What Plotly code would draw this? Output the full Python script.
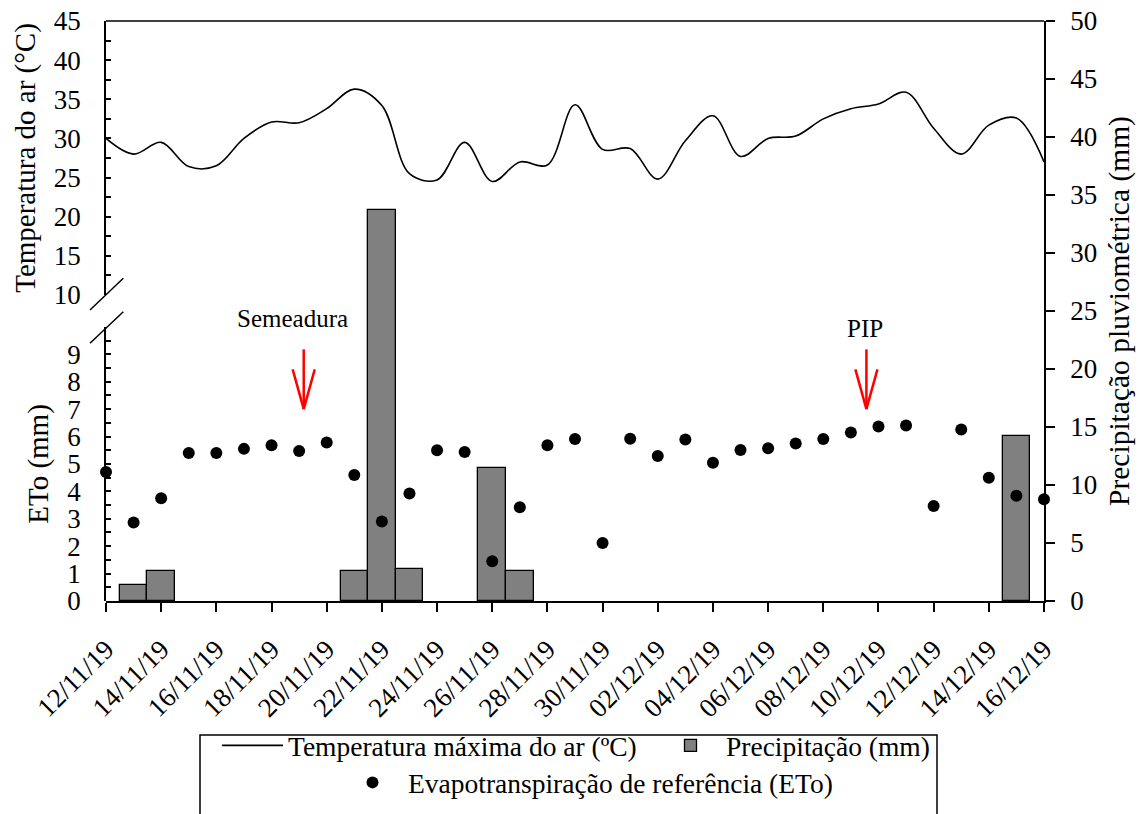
import plotly.graph_objects as go
import pandas as pd

# ---------------- data ----------------
dates = [
    "2019-11-12", "2019-11-13", "2019-11-14", "2019-11-15", "2019-11-16",
    "2019-11-17", "2019-11-18", "2019-11-19", "2019-11-20", "2019-11-21",
    "2019-11-22", "2019-11-23", "2019-11-24", "2019-11-25", "2019-11-26",
    "2019-11-27", "2019-11-28", "2019-11-29", "2019-11-30", "2019-12-01",
    "2019-12-02", "2019-12-03", "2019-12-04", "2019-12-05", "2019-12-06",
    "2019-12-07", "2019-12-08", "2019-12-09", "2019-12-10", "2019-12-11",
    "2019-12-12", "2019-12-13", "2019-12-14", "2019-12-15", "2019-12-16",
]

temp_max = [
    30.0, 28.0, 29.5, 26.4, 26.5, 30.0, 32.1, 32.0, 33.8, 36.3,
    34.2, 25.5, 24.7, 29.5, 24.5, 27.0, 26.6, 34.3, 28.6, 28.7,
    24.8, 29.7, 32.9, 27.7, 30.0, 30.3, 32.5, 33.8, 34.4, 35.9,
    31.3, 28.0, 31.7, 32.6, 27.0,
]

eto = [
    4.71, 2.86, 3.75, 5.40, 5.40, 5.55, 5.68, 5.47, 5.78, 4.60,
    2.90, 3.92, 5.50, 5.44, 1.45, 3.42, 5.68, 5.91, 2.12, 5.92,
    5.29, 5.89, 5.04, 5.51, 5.57, 5.75, 5.91, 6.15, 6.37, 6.40,
    3.47, 6.26, 4.50, 3.84, 3.71,
]

# days without rain are left empty (None)
precip = [
    None, 1.4, 2.6, None, None, None, None, None, None, 2.6,
    33.7, 2.8, None, None, 11.5, 2.6, None, None, None, None,
    None, None, None, None, None, None, None, None, None, None,
    None, None, None, 14.2, None,
]

tick_dates = dates[::2]
tick_labels = [
    "12/11/19", "14/11/19", "16/11/19", "18/11/19", "20/11/19", "22/11/19",
    "24/11/19", "26/11/19", "28/11/19", "30/11/19", "02/12/19", "04/12/19",
    "06/12/19", "08/12/19", "10/12/19", "12/12/19", "14/12/19", "16/12/19",
]

event_labels = ["Semeadura", "PIP"]
event_dates = ["2019-11-19 04:00", "2019-12-09 13:30"]

# ---------------- style ----------------
FONT = "Liberation Serif, Times New Roman, serif"
W, H = 1148, 814
ML, MR, MT, MB = 106, 104, 21, 213
PW, PH = W - ML - MR, H - MT - MB


def px_x(p):
    return (p - ML) / PW


def px_y(p):
    return (H - MB - p) / PH


fig = go.Figure()

fig.add_trace(go.Scatter(
    x=dates, y=temp_max, mode="lines",
    line=dict(color="black", width=1.6, shape="spline", smoothing=1.0),
    name="Temperatura máxima do ar (ºC)", xaxis="x", yaxis="y3",
    legend="legend", cliponaxis=False,
))

fig.add_trace(go.Bar(
    x=dates, y=precip, width=86400000,
    marker=dict(color="#808080", line=dict(color="black", width=1.3)),
    name="Precipitação (mm)", xaxis="x", yaxis="y",
    legend="legend",
))

fig.add_trace(go.Scatter(
    x=dates, y=eto, mode="markers",
    marker=dict(color="black", size=12),
    name="Evapotranspiração de referência (ETo)", xaxis="x", yaxis="y2",
    legend="legend2", cliponaxis=False,
))

eto_top = 10.0
temp_dom = [px_y(295), 1.0]
eto_dom = [0.0, px_y(601 - eto_top * 27.41)]

TICKSIZE = 27
axis_common = dict(showline=True, linecolor="black", linewidth=1.5,
                   showgrid=False, zeroline=False,
                   tickfont=dict(family=FONT, size=TICKSIZE, color="black"))

shapes = []
# top frame line
shapes.append(dict(type="line", xref="paper", yref="paper", x0=0, x1=1, y0=1, y1=1,
                   line=dict(color="black", width=1.5)))
# axis break marks
for (a, b) in [((90, 310), (123.3, 278.3)), ((90, 343.3), (123.3, 311.7))]:
    shapes.append(dict(type="line", xref="paper", yref="paper",
                       x0=px_x(a[0]), y0=px_y(a[1]), x1=px_x(b[0]), y1=px_y(b[1]),
                       line=dict(color="black", width=1.5)))
# red arrows
half = pd.Timedelta(hours=9.6)
for d in event_dates:
    t = pd.Timestamp(d)
    shapes.append(dict(type="line", xref="x", yref="y2", x0=t, x1=t, y0=9.18, y1=7.0,
                       line=dict(color="red", width=2.5)))
    shapes.append(dict(type="line", xref="x", yref="y2", x0=t - half, x1=t, y0=8.45, y1=7.0,
                       line=dict(color="red", width=2.5)))
    shapes.append(dict(type="line", xref="x", yref="y2", x0=t + half, x1=t, y0=8.45, y1=7.0,
                       line=dict(color="red", width=2.5)))
# legend frame
shapes.append(dict(type="rect", xref="paper", yref="paper",
                   x0=px_x(200), x1=px_x(937), y0=px_y(830), y1=px_y(735),
                   line=dict(color="black", width=1.5)))

annotations = []
label_pos = [(-0.4, 318), (-0.05, 328)]
for lab, d, (dx, py) in zip(event_labels, event_dates, label_pos):
    annotations.append(dict(
        x=pd.Timestamp(d) + pd.Timedelta(days=dx), xref="x", y=px_y(py), yref="paper",
        text=lab, showarrow=False, font=dict(family=FONT, size=25, color="black"),
        xanchor="center", yanchor="middle"))

fig.update_layout(
    width=W, height=H,
    margin=dict(l=ML, r=MR, t=MT, b=MB, autoexpand=False),
    paper_bgcolor="white", plot_bgcolor="rgba(0,0,0,0)",
    font=dict(family=FONT, color="black"),
    bargap=0,
    xaxis=dict(
        **axis_common, anchor="y", domain=[0, 1],
        range=[dates[0], dates[-1]], type="date",
        tickmode="array", tickvals=tick_dates, ticktext=tick_labels,
        tickangle=-45, ticks="outside", ticklen=9, tickwidth=1.5, tickcolor="black",
        ticklabelstandoff=11,
    ),
    yaxis=dict(
        **axis_common, anchor="x", side="right", domain=[0, 1], range=[0, 50],
        dtick=5, tick0=0, ticks="outside", ticklen=9, tickwidth=1.5, tickcolor="black",
        ticklabelstandoff=10,
        title=dict(text="Precipitação pluviométrica (mm)", standoff=12,
                   font=dict(family=FONT, size=29.5, color="black")),
    ),
    yaxis2=dict(
        **axis_common, anchor="x", side="left", domain=eto_dom, range=[0, eto_top],
        tickmode="array", tickvals=list(range(10)),
        ticks="inside", ticklen=5, tickwidth=1.5, tickcolor="black",
        minor=dict(dtick=0.5, tick0=0, ticks="inside", ticklen=5, tickwidth=1.5, tickcolor="black"),
        ticklabelstandoff=18,
        title=dict(text="ETo (mm)", standoff=10, font=dict(family=FONT, size=29, color="black")),
    ),
    yaxis3=dict(
        **axis_common, anchor="x", side="left", domain=temp_dom, range=[10, 45],
        dtick=5, tick0=10,
        ticks="inside", ticklen=5, tickwidth=1.5, tickcolor="black",
        minor=dict(dtick=2.5, tick0=10, ticks="inside", ticklen=5, tickwidth=1.5, tickcolor="black"),
        ticklabelstandoff=18,
        title=dict(text="Temperatura do ar (°C)", standoff=10,
                   font=dict(family=FONT, size=29, color="black")),
    ),
    legend=dict(
        orientation="h", x=px_x(217), xanchor="left", y=px_y(721), yanchor="top",
        font=dict(family=FONT, size=27.5, color="black"), bgcolor="rgba(0,0,0,0)",
        itemwidth=61, traceorder="normal", entrywidth=362, entrywidthmode="pixels",
    ),
    legend2=dict(
        orientation="h", x=px_x(337), xanchor="left", y=px_y(758), yanchor="top",
        font=dict(family=FONT, size=27.5, color="black"), bgcolor="rgba(0,0,0,0)",
        itemwidth=61,
    ),
    shapes=shapes,
    annotations=annotations,
    showlegend=True,
)

fig.write_html("out.html")
